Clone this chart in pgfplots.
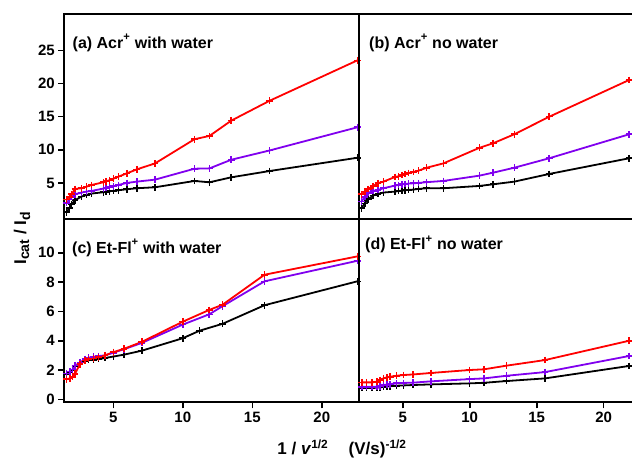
\documentclass[border=0pt]{standalone}
\usepackage{fontspec}
\setmainfont{Liberation Sans}
\usepackage{pgfplots}
\pgfplotsset{compat=1.18}
\definecolor{purp}{RGB}{128,0,238}
\definecolor{myred}{RGB}{255,0,0}
\pgfplotsset{
  panel/.style={
    scale only axis, anchor=south west,
    axis line style={line width=2pt},
    tick style={line width=1.6pt, black},
    major tick length=6pt, tick align=outside,
    /pgf/number format/assume math mode=true,
    ticklabel style={font=\bfseries\fontsize{15}{15}\selectfont},
    every axis plot/.append style={line width=1.8pt, mark=+, mark size=3.4pt, mark options={line width=1.6pt, solid}},
  },
  blk/.style={black}, prp/.style={purp}, rd/.style={myred},
}
\begin{document}
\begin{tikzpicture}[x=1pt,y=1pt]
\useasboundingbox (0,0) rectangle (632,460);
% (a)
\begin{axis}[panel, at={(64.3pt,241pt)}, width=295pt, height=205pt,
  xmin=1.47, xmax=22.7, ymin=-0.44, ymax=30.5,
  xtick=\empty, ytick={5,10,15,20,25}, ytick pos=left]
\addplot[blk] coordinates {(1.64,0.6)(1.83,1.2)(2.00,1.8)(2.24,2.4)(2.72,2.95)(3.08,3.2)(3.44,3.4)(4.28,3.6)(4.47,3.65)(4.71,3.75)(5.00,3.8)(5.36,3.9)(5.97,4.05)(6.69,4.2)(8.00,4.35)(10.84,5.3)(11.92,5.1)(13.48,5.85)(16.24,6.8)(22.56,8.8)};
\addplot[prp] coordinates {(1.64,2.0)(1.83,2.5)(2.00,2.9)(2.24,3.3)(2.72,3.55)(3.08,3.7)(3.44,3.8)(4.28,4.15)(4.47,4.25)(4.71,4.4)(5.00,4.5)(5.36,4.7)(5.97,5.0)(6.69,5.2)(8.00,5.5)(10.84,7.15)(11.92,7.2)(13.48,8.5)(16.24,9.9)(22.56,13.4)};
\addplot[rd] coordinates {(1.64,2.5)(1.83,2.9)(2.00,3.3)(2.24,4.1)(2.72,4.2)(3.08,4.45)(3.44,4.7)(4.28,5.1)(4.47,5.25)(4.71,5.4)(5.00,5.65)(5.36,5.95)(5.97,6.45)(6.69,7.05)(8.00,7.95)(10.84,11.6)(11.92,12.1)(13.48,14.4)(16.24,17.4)(22.56,23.5)};
\end{axis}
% (b)
\begin{axis}[panel, at={(359.3pt,241pt)}, width=274pt, height=205pt,
  xmin=1.76, xmax=22.21, ymin=-0.44, ymax=30.5,
  xtick=\empty, ytick=\empty]
\addplot[blk] coordinates {(1.92,1.2)(2.17,1.9)(2.42,2.55)(2.79,3.1)(3.16,3.35)(3.56,3.55)(4.43,3.7)(4.68,3.78)(4.93,3.85)(5.17,3.9)(5.42,3.95)(5.8,4.0)(6.17,4.1)(6.79,4.2)(8.03,4.2)(10.72,4.55)(11.76,4.8)(13.33,5.2)(15.94,6.36)(21.91,8.73)};
\addplot[prp] coordinates {(1.92,2.2)(2.17,2.9)(2.42,3.5)(2.79,3.8)(3.16,3.95)(3.56,4.2)(4.43,4.6)(4.68,4.7)(4.93,4.8)(5.17,4.85)(5.42,4.9)(5.8,4.95)(6.17,5.0)(6.79,5.12)(8.03,5.3)(10.72,6.1)(11.76,6.56)(13.33,7.3)(15.94,8.73)(21.91,12.35)};
\addplot[rd] coordinates {(1.92,3.3)(2.17,3.7)(2.42,4.1)(2.79,4.55)(3.16,4.95)(3.56,5.2)(4.43,5.9)(4.68,6.0)(4.93,6.2)(5.17,6.35)(5.42,6.5)(5.8,6.65)(6.17,6.85)(6.79,7.3)(8.03,7.95)(10.72,10.3)(11.76,11.0)(13.33,12.35)(15.94,15.0)(21.91,20.55)};
\end{axis}
% (c)
\begin{axis}[panel, at={(64.3pt,57.7pt)}, width=295pt, height=183pt,
  xmin=1.47, xmax=22.7, ymin=-0.2, ymax=12.28,
  xtick={5,10,15,20}, ytick={0,2,4,6,8,10}, ytick pos=left, xtick pos=left]
\addplot[blk] coordinates {(1.64,1.7)(1.88,1.85)(2.07,2.0)(2.24,2.25)(2.6,2.45)(2.96,2.62)(3.2,2.68)(3.56,2.7)(3.92,2.75)(4.4,2.82)(5.0,2.92)(5.77,3.05)(7.05,3.32)(10.0,4.17)(11.2,4.68)(12.85,5.15)(15.88,6.42)(22.56,8.05)};
\addplot[prp] coordinates {(1.64,1.77)(1.88,1.9)(2.07,2.05)(2.24,2.3)(2.6,2.5)(2.96,2.75)(3.2,2.84)(3.56,2.9)(3.92,2.95)(4.4,3.0)(5.0,3.18)(5.77,3.42)(7.05,3.85)(10.0,5.1)(11.9,5.8)(12.85,6.35)(15.88,8.05)(22.56,9.45)};
\addplot[rd] coordinates {(1.64,1.37)(1.88,1.43)(2.07,1.54)(2.24,1.75)(2.6,2.4)(2.96,2.65)(3.2,2.75)(3.56,2.8)(3.92,2.87)(4.4,3.0)(5.0,3.22)(5.77,3.45)(7.05,3.92)(10.0,5.3)(11.9,6.1)(12.85,6.45)(15.88,8.5)(22.56,9.75)};
\end{axis}
% (d)
\begin{axis}[panel, at={(359.3pt,57.7pt)}, width=274pt, height=183pt,
  xmin=1.76, xmax=22.21, ymin=-0.2, ymax=12.28,
  xtick={5,10,15,20}, ytick=\empty, xtick pos=left]
\addplot[blk] coordinates {(1.94,0.79)(2.31,0.79)(2.69,0.79)(3.06,0.8)(3.31,0.82)(3.56,0.85)(3.81,0.88)(4.06,0.9)(4.55,0.93)(5.05,0.95)(5.79,0.98)(7.11,1.02)(9.97,1.09)(11.07,1.13)(12.76,1.25)(15.62,1.43)(21.91,2.28)};
\addplot[prp] coordinates {(1.94,0.86)(2.31,0.86)(2.69,0.86)(3.06,0.86)(3.31,0.9)(3.56,0.98)(3.81,1.0)(4.06,1.04)(4.55,1.1)(5.05,1.12)(5.79,1.14)(7.11,1.23)(9.97,1.38)(11.07,1.43)(12.76,1.61)(15.62,1.86)(21.91,2.96)};
\addplot[rd] coordinates {(1.94,1.16)(2.31,1.16)(2.69,1.16)(3.06,1.2)(3.31,1.32)(3.56,1.43)(3.81,1.5)(4.06,1.54)(4.55,1.61)(5.05,1.66)(5.79,1.7)(7.11,1.8)(9.97,2.0)(11.07,2.05)(12.76,2.3)(15.62,2.68)(21.91,4.0)};
\end{axis}
% panel labels
\node[anchor=base west, inner sep=0pt, font=\bfseries\fontsize{16}{16}\selectfont] at (72.5,411.5) {(a) Acr\textsuperscript{\raisebox{0.25ex}{+}} with water};
\node[anchor=base west, inner sep=0pt, font=\bfseries\fontsize{16}{16}\selectfont] at (369,411.5) {(b) Acr\textsuperscript{\raisebox{0.25ex}{+}} no water};
\node[anchor=base west, inner sep=0pt, font=\bfseries\fontsize{16}{16}\selectfont] at (72,206.7) {(c) Et-Fl\textsuperscript{\raisebox{0.25ex}{+}} with water};
\node[anchor=base west, inner sep=0pt, font=\bfseries\fontsize{16}{16}\selectfont] at (365,210) {(d) Et-Fl\textsuperscript{\raisebox{0.25ex}{+}} no water};
% axis labels
\node[anchor=base, inner sep=0pt, font=\bfseries\fontsize{17}{17}\selectfont] at (342,5) {1 / \textit{v}\textsuperscript{1/2}\hspace{1.2em}(V/s)\textsuperscript{-1/2}};
\node[anchor=base, inner sep=0pt, rotate=90, font=\bfseries\fontsize{17}{17}\selectfont] at (26,222) {I\textsubscript{\fontsize{14}{14}\selectfont cat} / I\textsubscript{\fontsize{14}{14}\selectfont d}};
\end{tikzpicture}
\end{document}
